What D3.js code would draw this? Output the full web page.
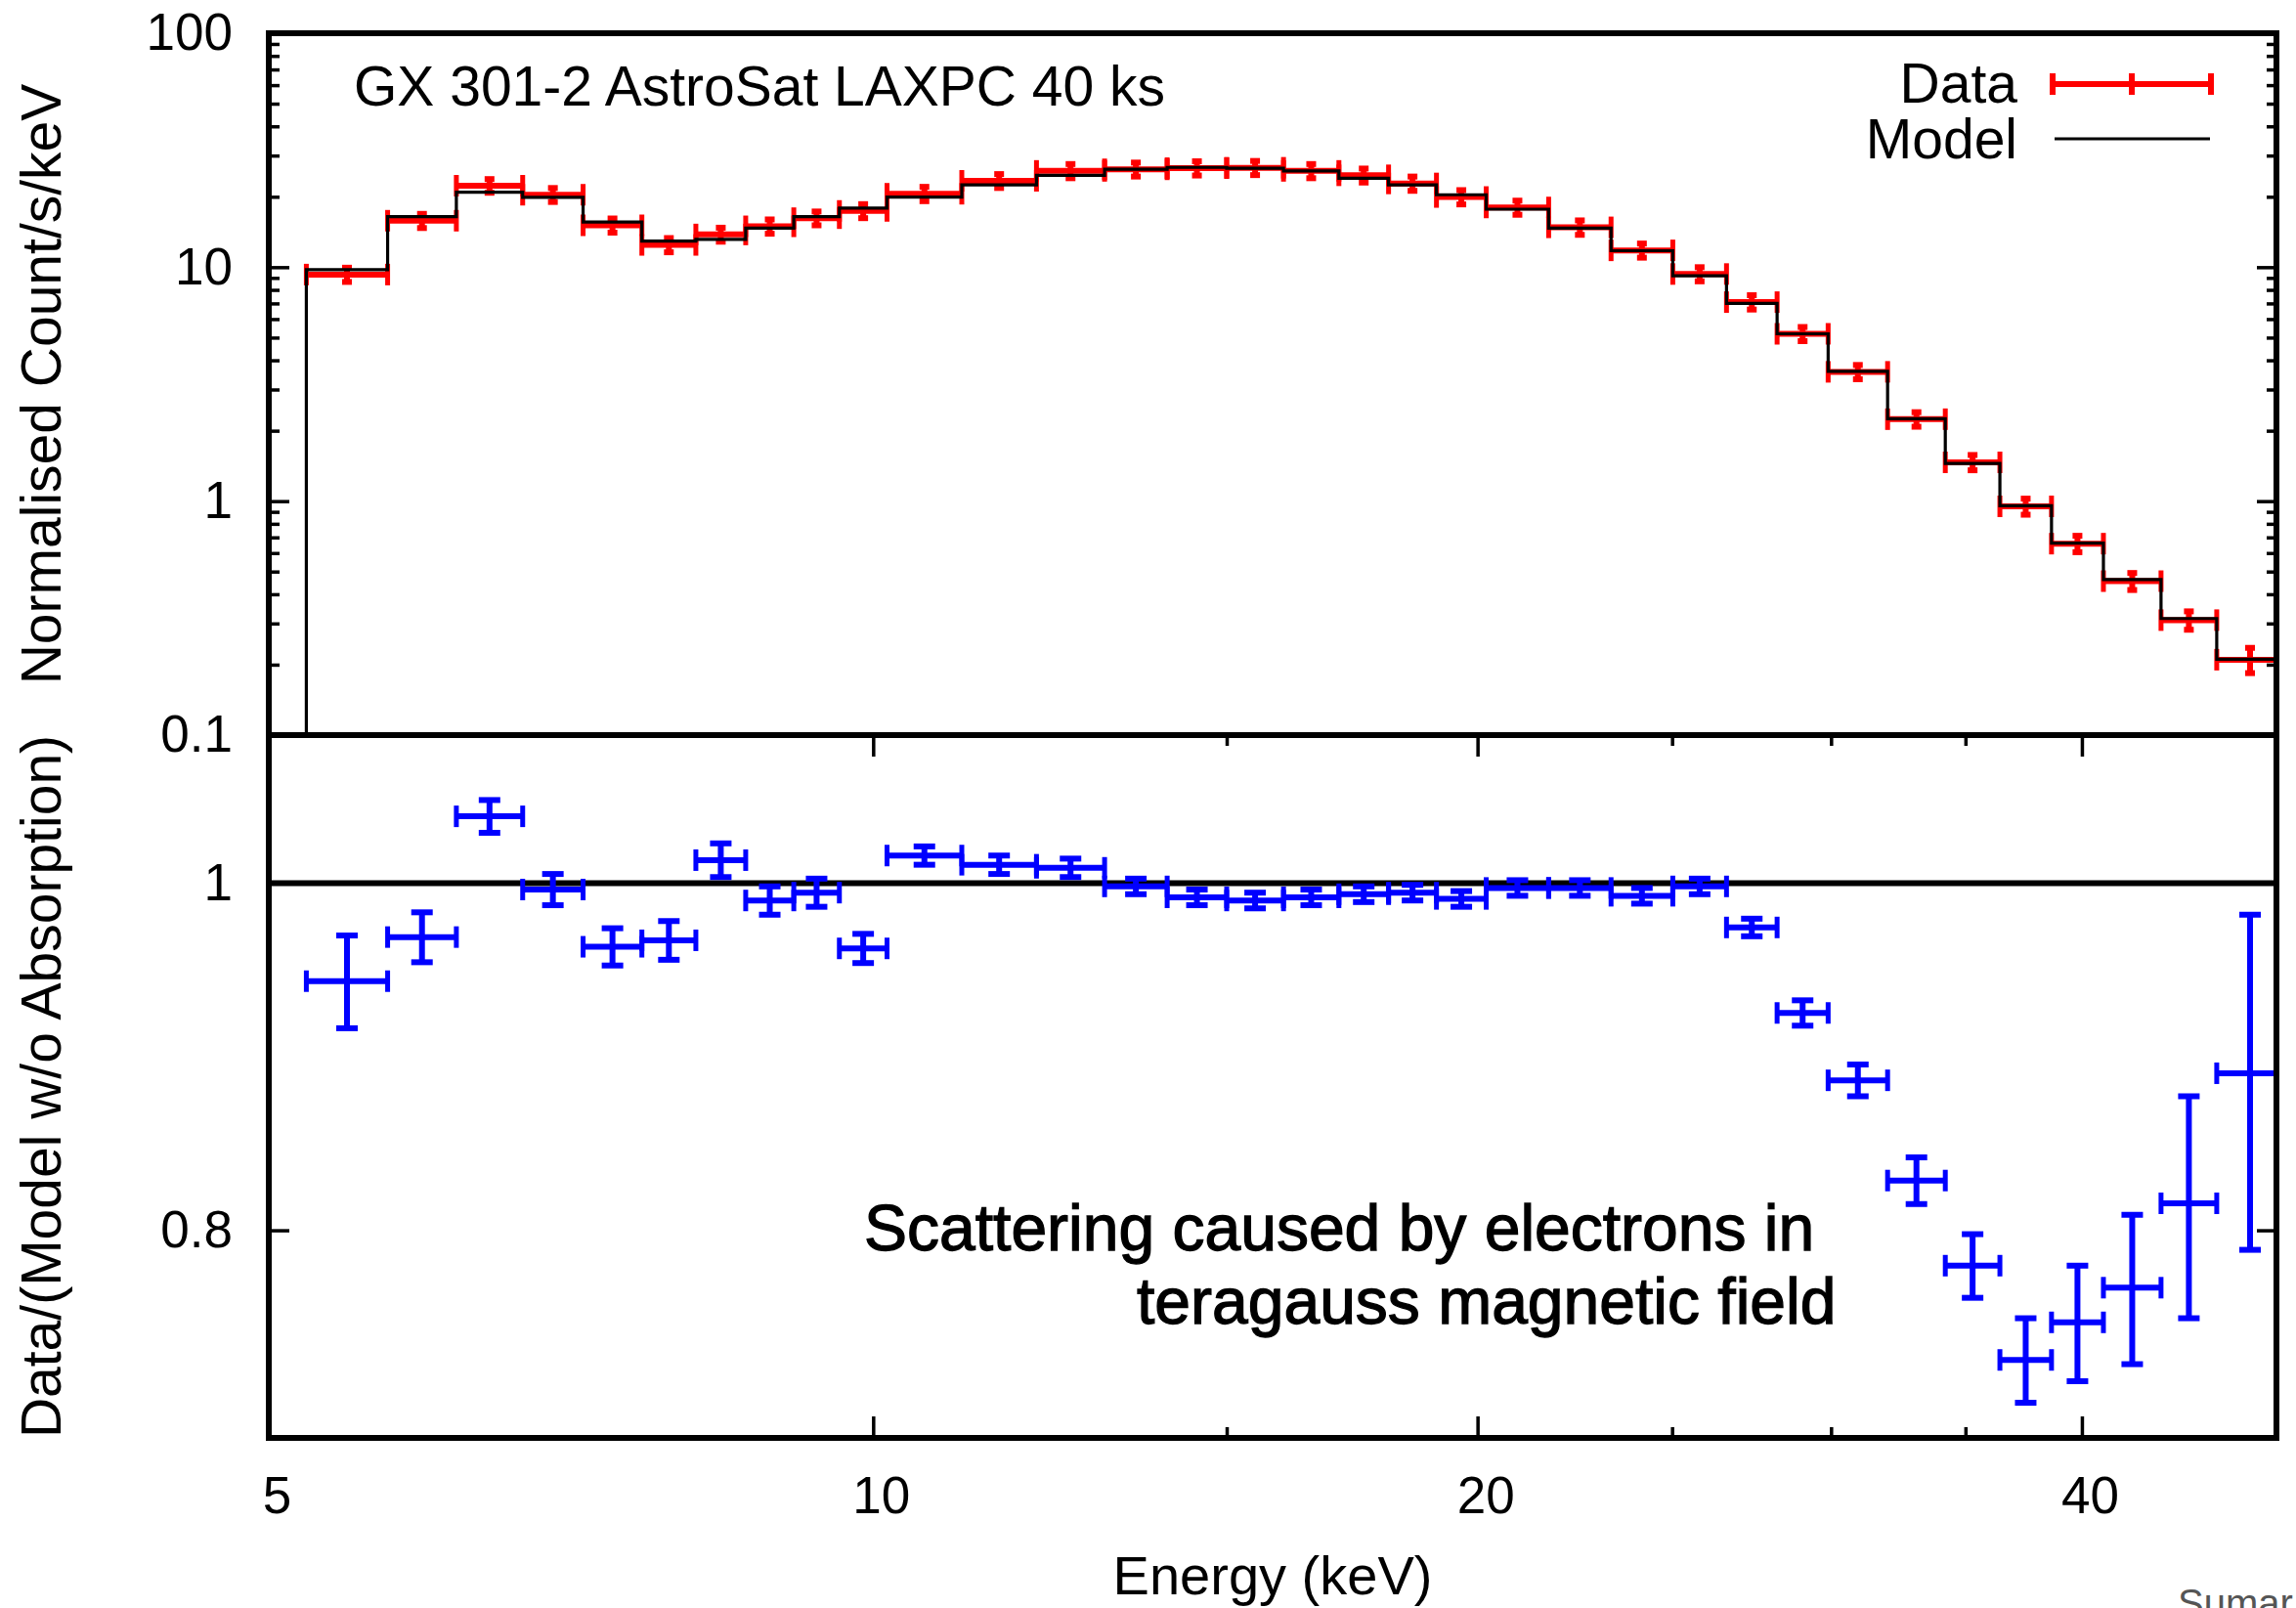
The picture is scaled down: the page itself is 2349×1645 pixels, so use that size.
<!DOCTYPE html>
<html>
<head>
<meta charset="utf-8">
<script src="https://cdn.jsdelivr.net/npm/d3@7"></script>
<style>
  html, body { margin: 0; padding: 0; background: #fff; }
  text { font-family: "Liberation Sans", Arial, Helvetica, sans-serif; }
</style>
</head>
<body>
<svg id="svg1" width="2349" height="1645"></svg>
<script>
// energy bin edges (keV), 34 bins
var binEdges = [5.22,5.73,6.20,6.69,7.17,7.67,8.16,8.64,9.13,9.62,10.16,11.07,12.06,13.04,14.01,15.00,16.01,17.06,18.06,19.08,20.20,21.70,23.31,25.02,26.61,28.20,29.90,32.01,34.20,36.41,38.63,41.00,43.80,46.69,50.4]

// top panel: normalised counts, errors, folded model
var counts   = [9.30,15.8,22.3,20.4,15.1,12.45,13.8,14.95,16.2,17.4,20.6,23.4,25.8,26.2,26.5,26.6,25.8,24.7,22.8,19.95,18.0,14.8,11.8,9.35,7.09,5.19,3.57,2.24,1.465,0.95,0.658,0.455,0.31,0.21]
var countErr = [0.65,1.1,1.5,1.4,1.05,0.87,0.95,1.05,1.1,1.2,1.45,1.6,1.8,1.8,1.85,1.85,1.8,1.7,1.6,1.4,1.25,1.05,0.82,0.65,0.5,0.36,0.25,0.16,0.11,0.075,0.053,0.038,0.028,0.026]
var model    = [9.76,16.45,20.9,19.9,15.6,12.94,13.15,14.7,16.45,17.9,19.95,22.5,24.7,26.2,26.7,26.5,25.8,24.0,22.5,20.4,17.7,14.7,11.76,9.19,7.0,5.19,3.59,2.25,1.45,0.956,0.661,0.462,0.315,0.211]

// bottom panel: data / (model w/o absorption)
var ratio    = [0.939,0.966,1.044,0.996,0.960,0.964,1.015,0.989,0.994,0.959,1.018,1.012,1.010,0.998,0.991,0.989,0.991,0.993,0.994,0.990,0.997,0.997,0.992,0.998,0.972,0.920,0.881,0.826,0.782,0.736,0.754,0.771,0.814,0.885]
var ratioErr = [0.028,0.0155,0.011,0.010,0.0115,0.012,0.011,0.009,0.009,0.009,0.006,0.006,0.006,0.005,0.005,0.005,0.005,0.005,0.005,0.005,0.005,0.005,0.005,0.005,0.0055,0.0075,0.009,0.0124,0.016,0.020,0.028,0.037,0.058,0.095]

var xTicksMajor = [5,10,20,40]
var xTicksMinor = [15,25,30,35]
var yTopMajor = [0.1,1,10,100]
var yTopMinor = [0.2,0.3,0.4,0.5,0.6,0.7,0.8,0.9,2,3,4,5,6,7,8,9,20,30,40,50,60,70,80,90]
var yBotMajor = [0.8,1]

var L=275, R=2329, T=34, M=752, B=1471;

var x = d3.scaleLog().domain([5,50]).range([L,R])
var yTop = d3.scaleLog().domain([0.1,100]).range([M,T])
var yBot = d3.scaleLog().domain([0.7,1.1]).range([B,M])

var svg = d3.select("#svg1")
svg.append("rect").attr("width",2349).attr("height",1645).attr("fill","#fff")

var defs = svg.append("defs")
defs.append("clipPath").attr("id","clipTop").append("rect")
    .attr("x",L).attr("y",T).attr("width",R-L).attr("height",M-T)
defs.append("clipPath").attr("id","clipBot").append("rect")
    .attr("x",L).attr("y",M).attr("width",R-L).attr("height",B-M)

function fmt(d){ return d3.format("~g")(d) }

// data crosses: horizontal bin width + vertical error
function crosses(g, yS, vals, errs, color, capW){
    var d = vals.map(function(v,i){ return {lo:binEdges[i], hi:binEdges[i+1], v:v, e:errs[i]} })
    var pts = g.selectAll("g.pt").data(d).join("g").attr("class","pt")
        .attr("stroke",color).attr("fill","none")
    pts.append("line").attr("stroke-width",6)
        .attr("x1",d=>x(d.lo)).attr("x2",d=>x(d.hi))
        .attr("y1",d=>yS(d.v)).attr("y2",d=>yS(d.v))
    pts.append("line").attr("stroke-width",5)
        .attr("x1",d=>x(d.lo)).attr("x2",d=>x(d.lo))
        .attr("y1",d=>yS(d.v)-11).attr("y2",d=>yS(d.v)+11)
    pts.append("line").attr("stroke-width",5)
        .attr("x1",d=>x(d.hi)).attr("x2",d=>x(d.hi))
        .attr("y1",d=>yS(d.v)-11).attr("y2",d=>yS(d.v)+11)
    var mid = d=>(x(d.lo)+x(d.hi))/2
    pts.append("line").attr("stroke-width",6)
        .attr("x1",mid).attr("x2",mid)
        .attr("y1",d=>yS(d.v-d.e)).attr("y2",d=>yS(d.v+d.e))
    pts.append("line").attr("stroke-width",6)
        .attr("x1",d=>mid(d)-capW/2).attr("x2",d=>mid(d)+capW/2)
        .attr("y1",d=>yS(d.v-d.e)).attr("y2",d=>yS(d.v-d.e))
    pts.append("line").attr("stroke-width",6)
        .attr("x1",d=>mid(d)-capW/2).attr("x2",d=>mid(d)+capW/2)
        .attr("y1",d=>yS(d.v+d.e)).attr("y2",d=>yS(d.v+d.e))
}

// top panel
var gTop = svg.append("g").attr("clip-path","url(#clipTop)")
crosses(gTop, yTop, counts, countErr, "#ff0000", 10)

var stepPts = [{e:binEdges[0], m:0.1}]
model.forEach(function(m,i){ stepPts.push({e:binEdges[i], m:m}) })
stepPts.push({e:binEdges[binEdges.length-1], m:model[model.length-1]})
gTop.append("path").datum(stepPts)
    .attr("fill","none").attr("stroke","#000").attr("stroke-width",3.2)
    .attr("d", d3.line().x(d=>x(d.e)).y(d=>yTop(d.m)).curve(d3.curveStepAfter))

// bottom panel
var gBot = svg.append("g").attr("clip-path","url(#clipBot)")
gBot.append("line").attr("x1",L).attr("x2",R).attr("y1",yBot(1)).attr("y2",yBot(1))
    .attr("stroke","#000").attr("stroke-width",6)
crosses(gBot, yBot, ratio, ratioErr, "#0000ff", 22)

// axes
function styleAxis(g, size){
    g.attr("font-family",'"Liberation Sans", Arial, Helvetica, sans-serif')
     .attr("font-size",size||53)
    g.select(".domain").remove()
    g.selectAll(".tick line").attr("stroke-width",3.5)
    g.selectAll(".tick text").attr("fill","#000")
}

svg.append("g").attr("transform","translate("+L+",0)")
    .call(d3.axisLeft(yTop).tickValues(yTopMajor).tickFormat(fmt).tickSizeInner(-21).tickSizeOuter(0).tickPadding(37))
    .call(styleAxis)
svg.append("g").attr("transform","translate("+L+",0)")
    .call(d3.axisLeft(yTop).tickValues(yTopMinor).tickFormat("").tickSizeInner(-11).tickSizeOuter(0))
    .call(styleAxis)
svg.append("g").attr("transform","translate("+R+",0)")
    .call(d3.axisLeft(yTop).tickValues(yTopMajor).tickFormat("").tickSizeInner(20).tickSizeOuter(0))
    .call(styleAxis)
svg.append("g").attr("transform","translate("+R+",0)")
    .call(d3.axisLeft(yTop).tickValues(yTopMinor).tickFormat("").tickSizeInner(10).tickSizeOuter(0))
    .call(styleAxis)

svg.append("g").attr("transform","translate("+L+",0)")
    .call(d3.axisLeft(yBot).tickValues(yBotMajor).tickFormat(fmt).tickSizeInner(-21).tickSizeOuter(0).tickPadding(37))
    .call(styleAxis)
svg.append("g").attr("transform","translate("+R+",0)")
    .call(d3.axisLeft(yBot).tickValues(yBotMajor).tickFormat("").tickSizeInner(20).tickSizeOuter(0))
    .call(styleAxis)

var xb = svg.append("g").attr("transform","translate(0,"+B+")")
    .call(d3.axisBottom(x).tickValues(xTicksMajor).tickFormat(fmt).tickSizeInner(-22).tickSizeOuter(0).tickPadding(39))
    .call(styleAxis)
xb.selectAll(".tick text").attr("dx",8)
svg.append("g").attr("transform","translate(0,"+B+")")
    .call(d3.axisBottom(x).tickValues(xTicksMinor).tickFormat("").tickSizeInner(-11).tickSizeOuter(0))
    .call(styleAxis)
svg.append("g").attr("transform","translate(0,"+M+")")
    .call(d3.axisTop(x).tickValues(xTicksMajor).tickFormat("").tickSizeInner(-22).tickSizeOuter(0))
    .call(styleAxis)
svg.append("g").attr("transform","translate(0,"+M+")")
    .call(d3.axisTop(x).tickValues(xTicksMinor).tickFormat("").tickSizeInner(-11).tickSizeOuter(0))
    .call(styleAxis)

// frames
svg.append("rect").attr("x",L).attr("y",T).attr("width",R-L).attr("height",M-T)
    .attr("fill","none").attr("stroke","#000").attr("stroke-width",6)
svg.append("rect").attr("x",L).attr("y",M).attr("width",R-L).attr("height",B-M)
    .attr("fill","none").attr("stroke","#000").attr("stroke-width",6)

// labels
svg.append("text").attr("transform","translate(62,"+((T+M)/2)+") rotate(-90)")
    .attr("text-anchor","middle").attr("font-size",57).text("Normalised Count/s/keV")
svg.append("text").attr("transform","translate(62,"+((M+B)/2)+") rotate(-90)")
    .attr("text-anchor","middle").attr("font-size",57).text("Data/(Model w/o Absorption)")
svg.append("text").attr("x",(L+R)/2).attr("y",1631)
    .attr("text-anchor","middle").attr("font-size",56).text("Energy (keV)")
svg.append("text").attr("x",362).attr("y",108)
    .attr("font-size",57).text("GX 301-2 AstroSat LAXPC 40 ks")

// legend
var leg = svg.append("g")
leg.append("text").attr("x",2064).attr("y",105).attr("text-anchor","end").attr("font-size",57).text("Data")
leg.append("text").attr("x",2064).attr("y",162).attr("text-anchor","end").attr("font-size",57).text("Model")
leg.append("line").attr("x1",2100).attr("x2",2262).attr("y1",86).attr("y2",86).attr("stroke","#ff0000").attr("stroke-width",6)
leg.selectAll("line.cap").data([2100,2181,2262]).join("line").attr("class","cap")
    .attr("x1",d=>d).attr("x2",d=>d).attr("y1",75).attr("y2",97)
    .attr("stroke","#ff0000").attr("stroke-width",6)
leg.append("line").attr("x1",2102).attr("x2",2261).attr("y1",142).attr("y2",142).attr("stroke","#000").attr("stroke-width",3)

// annotation
svg.append("text").attr("x",884).attr("y",1279).attr("font-size",66)
    .attr("stroke","#000").attr("stroke-width",1.3).text("Scattering caused by electrons in")
svg.append("text").attr("x",1163).attr("y",1354).attr("font-size",66)
    .attr("stroke","#000").attr("stroke-width",1.3).text("teragauss magnetic field")

svg.append("text").attr("x",2228).attr("y",1654).attr("font-size",40).attr("fill","#555").text("Sumar")
</script>
</body>
</html>
